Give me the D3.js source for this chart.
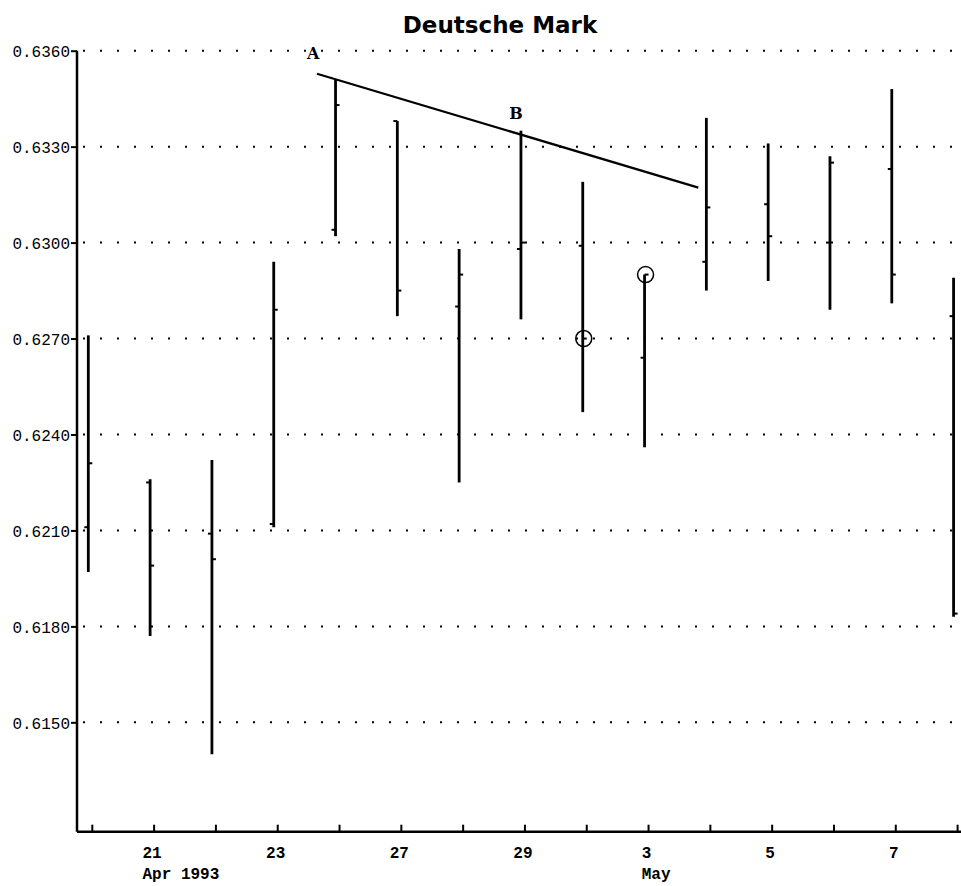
<!DOCTYPE html>
<html>
<head>
<meta charset="utf-8">
<script src="https://cdn.jsdelivr.net/npm/d3@7/dist/d3.min.js"></script>
<style>
  html, body { margin: 0; padding: 0; background: #ffffff; }
  svg { display: block; }
</style>
</head>
<body>
<div id="chart"></div>
<script>
// ---- data ----
const days   = ["20","21","22","23","26","27","28","29","30","3","4","5","6","7","10"];
const highs  = [0.6271, 0.6226, 0.6232, 0.6294, 0.6351, 0.6338, 0.6298, 0.6335, 0.6319, 0.6290, 0.6339, 0.6331, 0.6327, 0.6348, 0.6289];
const lows   = [0.6197, 0.6177, 0.6140, 0.6211, 0.6302, 0.6277, 0.6225, 0.6276, 0.6247, 0.6236, 0.6285, 0.6288, 0.6279, 0.6281, 0.6183];
const opens  = [0.6211, 0.6225, 0.6209, 0.6212, 0.6304, 0.6338, 0.6280, 0.6298, 0.6299, 0.6264, 0.6294, 0.6312, 0.6300, 0.6323, 0.6277];
const closes = [0.6231, 0.6199, 0.6201, 0.6279, 0.6343, 0.6285, 0.6290, 0.6300, 0.6270, 0.6290, 0.6311, 0.6302, 0.6325, 0.6290, 0.6184];
const yTicks = [0.6150, 0.6180, 0.6210, 0.6240, 0.6270, 0.6300, 0.6330, 0.6360];
const xLabelIdx = [1, 3, 5, 7, 9, 11, 13];
const monthLabels = ["Apr 1993", "May"];
const monthIdx = [1, 9];
const trendX = [3.70, 9.87];
const trendY = [0.63528, 0.63172];
const noteText = ["A", "B"];
const noteX = [3.64, 6.92];
const noteY = [0.63575, 0.63388];
const circleIdx = [8, 9];
const circleVal = [0.6270, 0.6290];
const chartTitle = "Deutsche Mark";

// ---- layout ----
const W = 961, H = 886;
const pLeft = 77, pRight = 961, pTop = 50.7, pBottom = 831.7;

const svg = d3.select("#chart").append("svg").attr("width", W).attr("height", H);

const x = d3.scaleLinear().domain([-0.183, 14.12]).range([pLeft, pRight]);
const y = d3.scaleLinear().domain([0.61158, 0.6360]).range([pBottom, pTop]);
const tickShift = 4;

// title
svg.append("text")
  .attr("x", 500).attr("y", 33)
  .attr("text-anchor", "middle")
  .attr("font-family", "DejaVu Sans, sans-serif")
  .attr("font-weight", "bold")
  .attr("font-size", 23)
  .text(chartTitle);

// gridlines
svg.append("g").selectAll("line").data(yTicks).join("line")
  .attr("x1", pLeft + 6).attr("x2", pRight)
  .attr("y1", d => y(d)).attr("y2", d => y(d))
  .attr("stroke", "#000").attr("stroke-width", 2)
  .attr("stroke-dasharray", "2,15");

// y axis
const yAxis = d3.axisLeft(y).tickValues(yTicks).tickSize(6).tickFormat(d3.format(".4f"));
const gy = svg.append("g").attr("transform", `translate(${pLeft},0)`).call(yAxis);
gy.select(".domain").attr("stroke-width", 2.5).attr("d", `M0,${pTop}V${pBottom}`);
gy.selectAll(".tick line").attr("stroke-width", 2);
gy.selectAll(".tick text")
  .attr("font-family", "Liberation Mono, monospace")
  .attr("font-size", 16)
  .attr("fill", "#000")
  .attr("x", -7)
  .attr("dy", "0.36em");

// x axis
svg.append("line")
  .attr("x1", pLeft).attr("x2", pRight)
  .attr("y1", pBottom).attr("y2", pBottom)
  .attr("stroke", "#000").attr("stroke-width", 2.5);
svg.append("g").selectAll("line").data(days).join("line")
  .attr("x1", (d, i) => x(i) + tickShift).attr("x2", (d, i) => x(i) + tickShift)
  .attr("y1", pBottom).attr("y2", pBottom - 7)
  .attr("stroke", "#000").attr("stroke-width", 2);
svg.append("g").selectAll("text").data(xLabelIdx).join("text")
  .attr("x", d => x(d) + tickShift - 2)
  .attr("y", 858)
  .attr("text-anchor", "middle")
  .attr("font-family", "Liberation Mono, monospace")
  .attr("font-weight", "bold")
  .attr("font-size", 16)
  .text(d => days[d]);
svg.append("g").selectAll("text").data(monthLabels).join("text")
  .attr("x", (d, i) => x(monthIdx[i]) + tickShift - 2 - days[monthIdx[i]].length * 4.8)
  .attr("y", 879)
  .attr("font-family", "Liberation Mono, monospace")
  .attr("font-weight", "bold")
  .attr("font-size", 16)
  .text(d => d);

// OHLC bars
const bars = svg.append("g");
bars.selectAll("line.hl").data(days).join("line").attr("class", "hl")
  .attr("x1", (d, i) => x(i)).attr("x2", (d, i) => x(i))
  .attr("y1", (d, i) => y(highs[i])).attr("y2", (d, i) => y(lows[i]))
  .attr("stroke", "#000").attr("stroke-width", 2.8);
bars.selectAll("line.op").data(days).join("line").attr("class", "op")
  .attr("x1", (d, i) => x(i) - 4).attr("x2", (d, i) => x(i))
  .attr("y1", (d, i) => y(opens[i])).attr("y2", (d, i) => y(opens[i]))
  .attr("stroke", "#000").attr("stroke-width", 2);
bars.selectAll("line.cl").data(days).join("line").attr("class", "cl")
  .attr("x1", (d, i) => x(i)).attr("x2", (d, i) => x(i) + 4)
  .attr("y1", (d, i) => y(closes[i])).attr("y2", (d, i) => y(closes[i]))
  .attr("stroke", "#000").attr("stroke-width", 2);

// trend line
svg.append("line")
  .attr("x1", x(trendX[0])).attr("y1", y(trendY[0]))
  .attr("x2", x(trendX[1])).attr("y2", y(trendY[1]))
  .attr("stroke", "#000").attr("stroke-width", 2.2);

// annotations
svg.append("g").selectAll("text").data(noteText).join("text")
  .attr("x", (d, i) => x(noteX[i]))
  .attr("y", (d, i) => y(noteY[i]))
  .attr("text-anchor", "middle")
  .attr("font-family", "DejaVu Serif, serif")
  .attr("font-weight", "bold")
  .attr("font-size", 16)
  .text(d => d);

// circles
svg.append("g").selectAll("circle").data(circleIdx).join("circle")
  .attr("cx", (d, i) => x(d) + 1)
  .attr("cy", (d, i) => y(circleVal[i]))
  .attr("r", 8)
  .attr("fill", "none").attr("stroke", "#000").attr("stroke-width", 1.5);
</script>
</body>
</html>
